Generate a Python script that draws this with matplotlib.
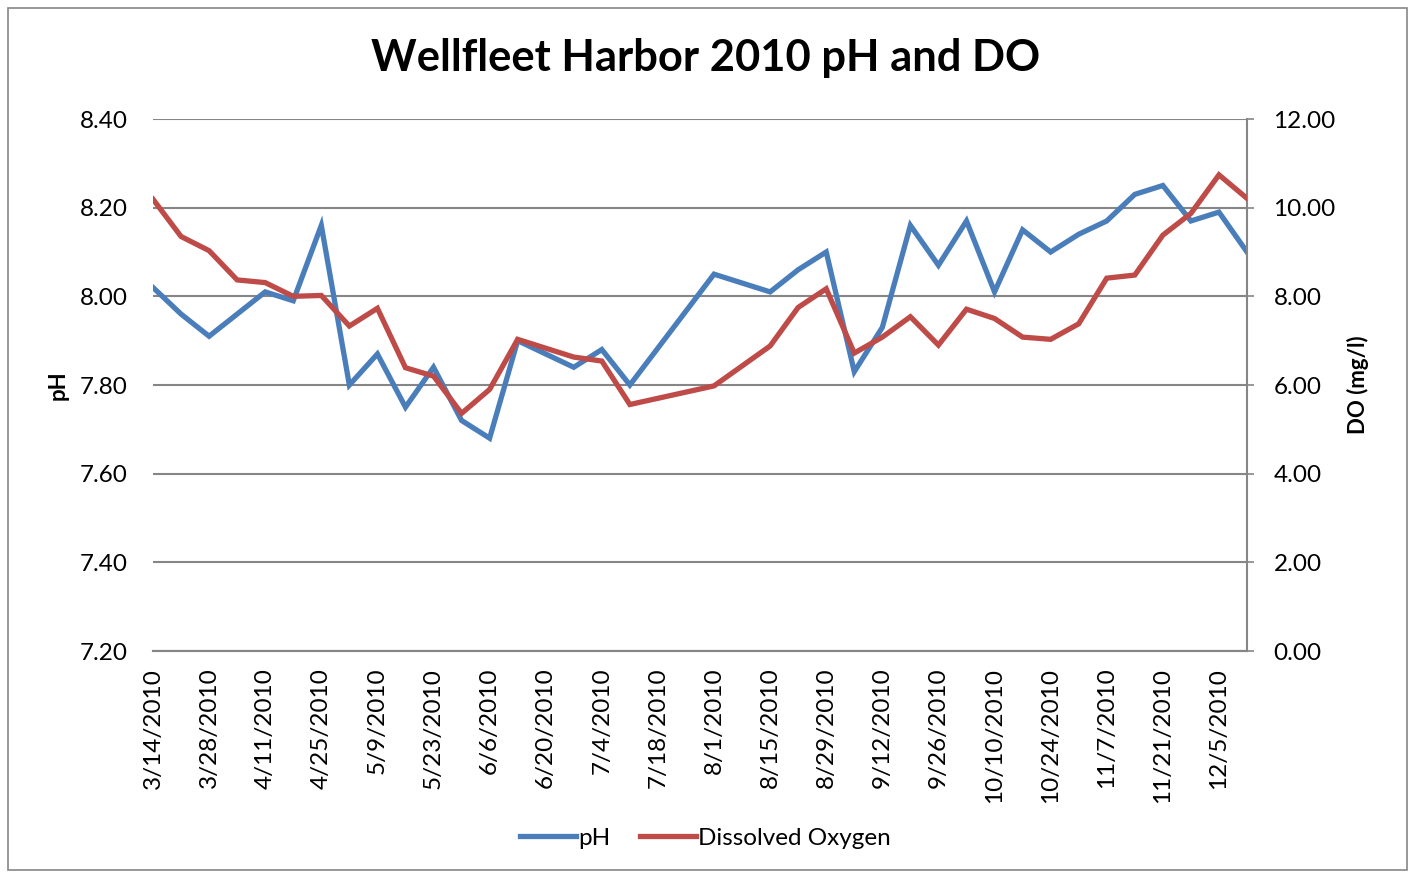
import matplotlib
matplotlib.use("Agg")
import matplotlib.pyplot as plt
from matplotlib.patches import Rectangle
from datetime import datetime, timedelta

# weekly samples (7/18, 7/25 and 8/8 missing)
dates = ["2010-03-14", "2010-03-21", "2010-03-28", "2010-04-04", "2010-04-11",
         "2010-04-18", "2010-04-25", "2010-05-02", "2010-05-09", "2010-05-16",
         "2010-05-23", "2010-05-30", "2010-06-06", "2010-06-13", "2010-06-20",
         "2010-06-27", "2010-07-04", "2010-07-11", "2010-08-01", "2010-08-15",
         "2010-08-22", "2010-08-29", "2010-09-05", "2010-09-12", "2010-09-19",
         "2010-09-26", "2010-10-03", "2010-10-10", "2010-10-17", "2010-10-24",
         "2010-10-31", "2010-11-07", "2010-11-14", "2010-11-21", "2010-11-28",
         "2010-12-05", "2010-12-12"]
ph = [8.02, 7.96, 7.91, 7.96, 8.01, 7.99, 8.16, 7.80, 7.87, 7.75,
      7.84, 7.72, 7.68, 7.90, 7.87, 7.84, 7.88, 7.80, 8.05, 8.01,
      8.06, 8.10, 7.83, 7.93, 8.16, 8.07, 8.17, 8.01, 8.15, 8.10,
      8.14, 8.17, 8.23, 8.25, 8.17, 8.19, 8.10]
do = [10.19, 9.35, 9.03, 8.37, 8.31, 8.00, 8.02, 7.33, 7.73, 6.39,
      6.20, 5.36, 5.90, 7.03, 6.83, 6.63, 6.54, 5.56, 5.98, 6.88,
      7.75, 8.17, 6.72, 7.08, 7.54, 6.90, 7.71, 7.50, 7.08, 7.03,
      7.38, 8.41, 8.48, 9.38, 9.87, 10.74, 10.21]

ph_ticks = [7.20, 7.40, 7.60, 7.80, 8.00, 8.20, 8.40]
do_ticks = [0, 2, 4, 6, 8, 10, 12]

x = [datetime.strptime(d, "%Y-%m-%d") for d in dates]
tick_dates = [x[0] + timedelta(days=14 * i) for i in range(20)]
tick_labels = [f"{d.month}/{d.day}/{d.year}" for d in tick_dates]

plt.rcParams['font.family'] = ['Lato', 'DejaVu Sans']
grid_col = '#868686'
blue = '#4A7EBB'
red = '#BE4B48'

fig = plt.figure(figsize=(14.11, 8.74), dpi=100)
ax = fig.add_axes([153 / 1411, 1 - 651 / 874, (1247 - 153) / 1411, (651 - 119) / 874])
ax2 = ax.twinx()

l1, = ax.plot(x, ph, color=blue, lw=3.8, solid_joinstyle='miter', label='pH', zorder=3)
l2, = ax2.plot(x, do, color=red, lw=3.8, solid_joinstyle='miter', label='Dissolved Oxygen', zorder=3)

ax.set_xlim(x[0], x[-1])
ax.set_ylim(7.2, 8.4)
ax.set_yticks(ph_ticks)
ax.set_yticklabels([f"{v:.2f}" for v in ph_ticks])
ax2.set_ylim(0, 12)
ax2.set_yticks(do_ticks)
ax2.set_yticklabels([f"{v:.2f}" for v in do_ticks])

ax.set_xticks(tick_dates)
ax.set_xticklabels(tick_labels, rotation=90, ha='center', va='top')
ax.tick_params(axis='x', length=0, pad=12, labelsize=17.5)
ax.tick_params(axis='y', length=0, pad=18, labelsize=17.5)
ax2.tick_params(axis='y', length=5, width=1.2, color=grid_col, pad=14, labelsize=17.5)

ax.grid(axis='y', color=grid_col, lw=1.5)
ax.set_axisbelow(True)
for a in (ax, ax2):
    for s in ('left', 'top'):
        a.spines[s].set_visible(False)
    a.spines['bottom'].set_color(grid_col)
    a.spines['bottom'].set_linewidth(1.5)
    a.spines['right'].set_color(grid_col)
    a.spines['right'].set_linewidth(1.5)
ax.spines['right'].set_visible(False)

ax.set_ylabel('pH', fontsize=16, fontweight='bold', labelpad=8)
ax2.set_ylabel('DO (mg/l)', fontsize=16, fontweight='bold', labelpad=8)

fig.text(0.5, 1 - 58 / 874, 'Wellfleet Harbor 2010 pH and DO', ha='center', va='center',
         fontsize=31.3, fontweight='bold')

fig.legend([l1, l2], ['pH', 'Dissolved Oxygen'], loc='center', bbox_to_anchor=(0.5, 1 - 838 / 874),
           ncol=2, frameon=False, fontsize=17.5, handlelength=2.3, handletextpad=0.1, columnspacing=1.2)

fig.patches.append(Rectangle((8 / 1411, 4 / 874), 1399 / 1411, 862 / 874, transform=fig.transFigure,
                             fill=False, edgecolor=grid_col, lw=1.2))

fig.savefig('out.png', dpi=100)
